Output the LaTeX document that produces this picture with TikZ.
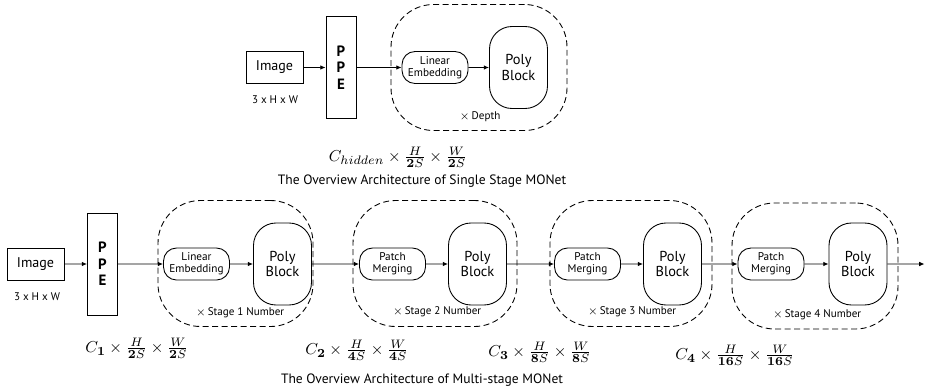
\documentclass[tikz,border=0pt]{standalone}
\usepackage{amsmath}
\usepackage{amssymb}
\usepackage[no-math]{fontspec}
\setmainfont{PT Sans}
\usetikzlibrary{arrows.meta}

\begin{document}
\begin{tikzpicture}[scale=0.2]
\tikzstyle{every node}+=[inner sep=0pt]
\tikzstyle{plain}=[draw, line width=0.5pt, minimum width=1.14cm, minimum height=0.64cm, font=\fontsize{8}{9.6}\selectfont]
\tikzstyle{ppe}=[draw, line width=0.5pt, minimum width=0.6cm, minimum height=2.04cm, align=center, font=\fontsize{8.5}{9.4}\selectfont\bfseries]
\tikzstyle{embed}=[draw, line width=0.5pt, rounded corners=0.26cm, minimum width=1.32cm, minimum height=0.64cm, align=center, font=\fontsize{6.4}{7}\selectfont]
\tikzstyle{poly}=[draw, line width=0.5pt, rounded corners=0.45cm, minimum width=1.16cm, minimum height=1.64cm, align=center, font=\fontsize{8.2}{8.8}\selectfont]
\tikzstyle{stage}=[draw, line width=0.5pt, dash pattern=on 3.4pt off 2pt, rounded corners=0.85cm, minimum height=2.52cm]
\tikzstyle{small}=[font=\fontsize{6.3}{7}\selectfont]
\tikzstyle{dims}=[font=\fontsize{9.5}{11}\selectfont]
\tikzstyle{caption}=[font=\fontsize{7.7}{9}\selectfont]
\tikzstyle{flow}=[line width=0.5pt, -{Latex[length=3pt,width=2.6pt]}]
\newcommand{\rep}{$\times$\,}
\useasboundingbox (0,0) rectangle (92.5,-39);

% single stage
\node [stage, minimum width=3.52cm] (s0) at (47.9,-6.75) {};
\node [plain] (img0) at (27.45,-6.75) {Image};
\node [small] (size0) at (27.5,-10) {3 x H x W};
\node [ppe] (ppe0) at (34.1,-6.75) {P\\P\\E};
\node [embed] (le0) at (43.5,-6.75) {Linear\\Embedding};
\node [poly] (pb0) at (51.85,-6.75) {Poly\\Block};
\node [small] (rep0) at (48,-11.7) {\rep Depth};
\node [dims] (c0) at (39.8,-15.7) {$C_{hidden}\times\frac{H}{\mathbf{2}S}\times\frac{W}{\mathbf{2}S}$};
\node [caption] (t0) at (42.2,-18.1) {The Overview Architecture of Single Stage MONet};
\draw [flow] (img0) -- (ppe0);
\draw [flow] (ppe0) -- (le0);
\draw [flow] (le0) -- (pb0);

% multi stage
\node [stage, minimum width=3.1cm] (s1) at (23.55,-26.35) {};
\node [stage, minimum width=3.28cm] (s2) at (43.5,-26.35) {};
\node [stage, minimum width=3.24cm] (s3) at (63.1,-26.35) {};
\node [stage, minimum width=3.32cm] (s4) at (81.5,-26.6) {};
\node [plain] (img1) at (3.55,-26.4) {Image};
\node [small] (size1) at (3.7,-29.7) {3 x H x W};
\node [ppe] (ppe1) at (10.25,-26.4) {P\\P\\E};
\node [embed] (le1) at (19.65,-26.4) {Linear\\Embedding};
\node [poly] (pb1) at (28.25,-26.4) {Poly\\Block};
\node [embed] (pm2) at (39.25,-26.4) {Patch\\Merging};
\node [poly] (pb2) at (47.75,-26.4) {Poly\\Block};
\node [embed] (pm3) at (58.75,-26.4) {Patch\\Merging};
\node [poly] (pb3) at (67.25,-26.4) {Poly\\Block};
\node [embed] (pm4) at (77.1,-26.4) {Patch\\Merging};
\node [poly] (pb4) at (85.8,-26.4) {Poly\\Block};
\coordinate (out) at (92.45,-26.4);
\node [small] (rep1) at (24,-31.3) {\rep Stage 1 Number};
\node [small] (rep2) at (43.7,-31.2) {\rep Stage 2 Number};
\node [small] (rep3) at (63.2,-31.2) {\rep Stage 3 Number};
\node [small] (rep4) at (81.7,-31.5) {\rep Stage 4 Number};
\node [dims] (c1) at (13.7,-34.8) {$C_{\mathbf{1}}\times\frac{H}{\mathbf{2}S}\times\frac{W}{\mathbf{2}S}$};
\node [dims] (c2) at (35.7,-35) {$C_{\mathbf{2}}\times\frac{H}{\mathbf{4}S}\times\frac{W}{\mathbf{4}S}$};
\node [dims] (c3) at (54,-35.2) {$C_{\mathbf{3}}\times\frac{H}{\mathbf{8}S}\times\frac{W}{\mathbf{8}S}$};
\node [dims] (c4) at (73.5,-35.5) {$C_{\mathbf{4}}\times\frac{H}{\mathbf{16}S}\times\frac{W}{\mathbf{16}S}$};
\node [caption] (t1) at (42.2,-38) {The Overview Architecture of Multi-stage MONet};
\draw [flow] (img1) -- (ppe1);
\draw [flow] (ppe1) -- (le1);
\draw [flow] (le1) -- (pb1);
\draw [flow] (pb1) -- (pm2);
\draw [flow] (pm2) -- (pb2);
\draw [flow] (pb2) -- (pm3);
\draw [flow] (pm3) -- (pb3);
\draw [flow] (pb3) -- (pm4);
\draw [flow] (pm4) -- (pb4);
\draw [flow] (pb4) -- (out);
\end{tikzpicture}
\end{document}
